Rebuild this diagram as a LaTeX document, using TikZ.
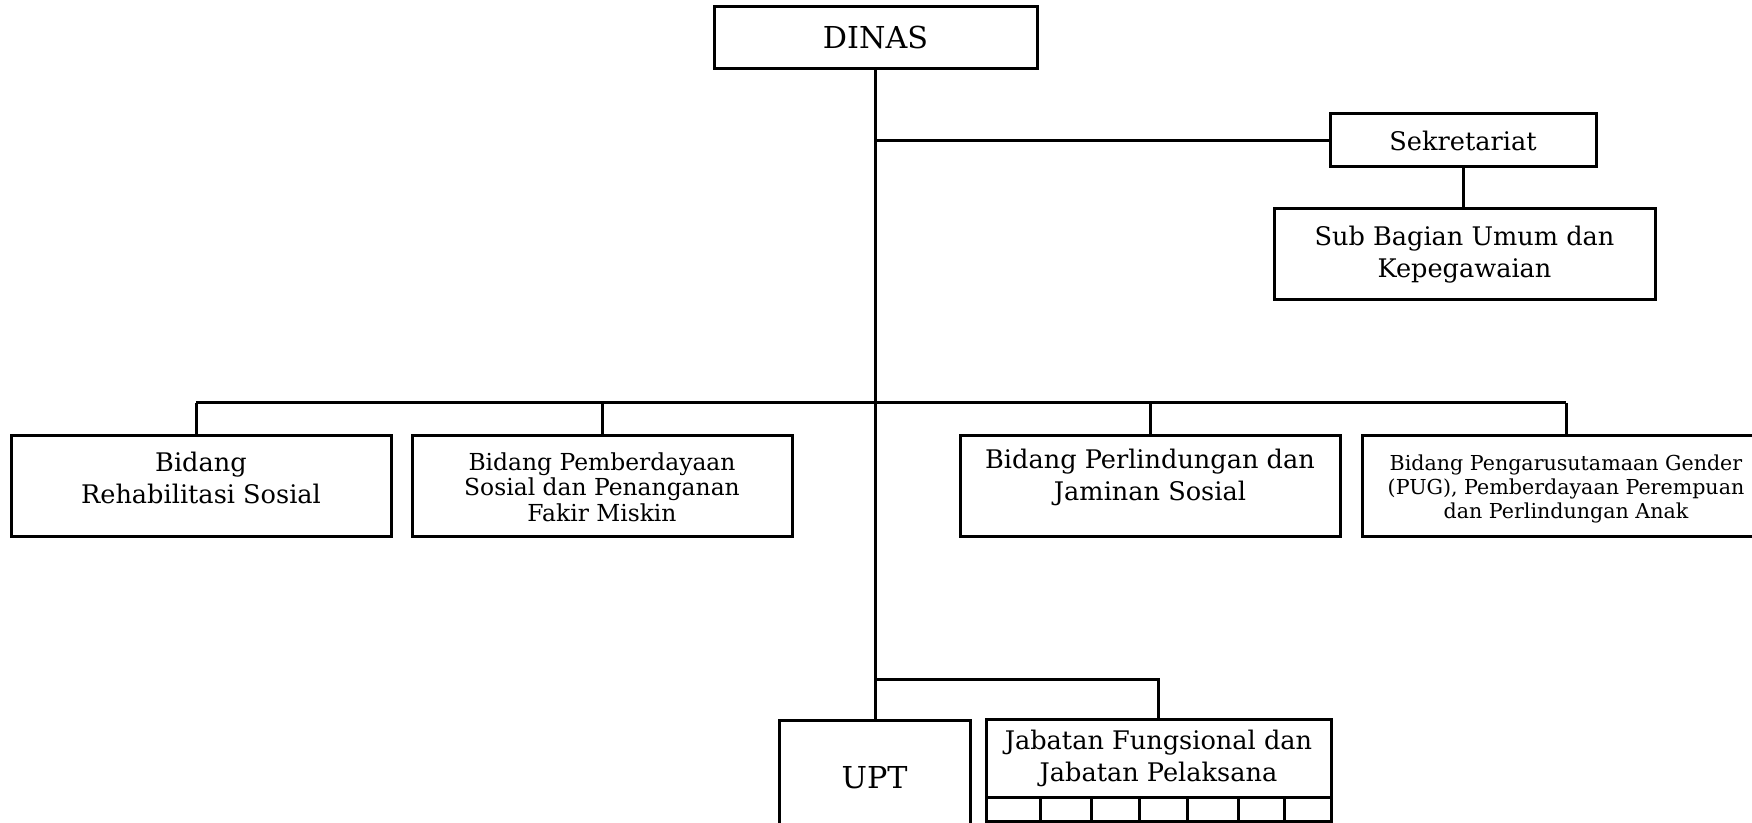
\documentclass[tikz,border=0pt]{standalone}
\usepackage{fontspec}
\setmainfont{DejaVu Serif}
\begin{document}
\begin{tikzpicture}[x=0.5pt,y=-0.5pt,
  box/.style={draw,line width=1.5pt,inner sep=0pt,rectangle,anchor=center},
  txt/.style={inner sep=0pt,align=center,anchor=center},
  conn/.style={line width=1.5pt},
  fa/.style={font=\fontsize{15.1}{18}\selectfont},
  fb/.style={font=\fontsize{12.8}{16}\selectfont},
  fc/.style={font=\fontsize{11.7}{12.75}\selectfont},
  fd/.style={font=\fontsize{10.3}{12}\selectfont}]
\useasboundingbox (0,0) rectangle (1752,823);
\clip (0,0) rectangle (1752,823);
% boxes
\node[box,minimum width=161.5pt,minimum height=31pt,fa] (dinas) at (875.5,38) {DINAS};
\node[box,minimum width=133pt,minimum height=26.5pt,fb] (sek) at (1463,140.5) {Sekretariat};
\node[box,minimum width=190.5pt,minimum height=45.5pt,fb,align=center] (sub) at (1464.5,254.5) {Sub Bagian Umum dan\\Kepegawaian};
\node[box,minimum width=190pt,minimum height=50.5pt] (b1) at (201,486.5) {};
\node[box,minimum width=190pt,minimum height=50.5pt] (b2) at (602,486.5) {};
\node[box,minimum width=190pt,minimum height=50.5pt] (b3) at (1150,486.5) {};
\node[box,minimum width=204pt,minimum height=50.5pt] (b4) at (1566,486.5) {};
\node[txt,fb] (b1t) at (201,478) {Bidang\\Rehabilitasi Sosial};
\node[txt,fc] (b2t) at (602,487) {Bidang Pemberdayaan\\Sosial dan Penanganan\\Fakir Miskin};
\node[txt,fb] (b3t) at (1150,477.5) {Bidang Perlindungan dan\\Jaminan Sosial};
\node[txt,fd] (b4t) at (1566,489) {Bidang Pengarusutamaan Gender\\(PUG), Pemberdayaan Perempuan\\dan Perlindungan Anak};
\node[box,minimum width=95.5pt,minimum height=70pt] (upt) at (874.5,790) {};
\node[txt,fa] (uptt) at (874.5,778) {UPT};
\node[box,minimum width=172.5pt,minimum height=39pt,fb,align=center] (jab) at (1158.5,758) {Jabatan Fungsional dan\\Jabatan Pelaksana};
% cells
\foreach \l/\r [count=\i] in {986/1040,1040/1091,1091/1139,1139/1187,1187/1238,1238/1284,1284/1331}{
  \node[box,minimum width={(\r-\l)*0.5pt},minimum height=12pt] (c\i) at ({(\l+\r)/2},809) {};
}
% connectors
\coordinate (bus) at (876,403);
\coordinate (jt) at (876,679);
\coordinate (b1top) at ([xshift=-2.5pt]b1.north);
\draw[conn] (dinas.south) -- (dinas.south |- upt.north);
\draw[conn] (dinas.south |- sek.west) -- (sek.west);
\draw[conn] (sek.south) -- (sek.south |- sub.north);
\draw[conn] (b1top |- bus) -- (b4.north |- bus);
\draw[conn] (b1top |- bus) -- (b1top);
\foreach \b in {b2,b3,b4}{\draw[conn] (\b.north |- bus) -- (\b.north);}
\draw[conn] (jt) -| (jab.north);
\end{tikzpicture}
\end{document}
